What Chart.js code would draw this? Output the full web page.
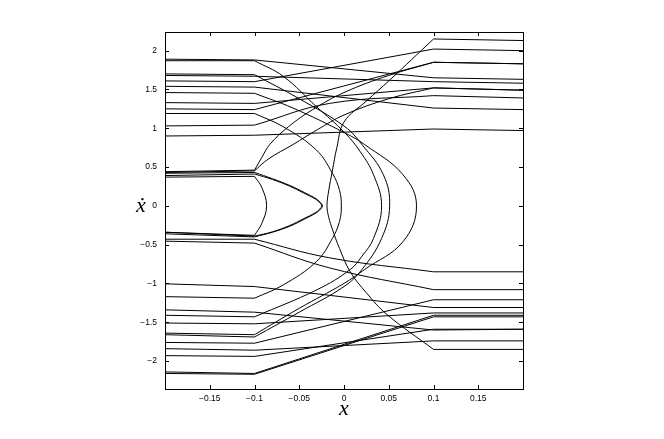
<!DOCTYPE html>
<html><head><meta charset="utf-8">
<script src="https://cdn.jsdelivr.net/npm/chart.js@4/dist/chart.umd.min.js"></script>
<style>html,body{margin:0;padding:0;background:#fff}</style>
</head><body>
<canvas id="c" width="664" height="439"></canvas>
<script>
// ---- axes ----
const xRange = [-0.2, 0.2];
const yRange = [-2.36, 2.24];
const xTicks = [-0.15, -0.1, -0.05, 0, 0.05, 0.1, 0.15];
const xTickLabels = ['\u22120.15', '\u22120.1', '\u22120.05', '0', '0.05', '0.1', '0.15'];
const yTicks = [-2, -1.5, -1, -0.5, 0, 0.5, 1, 1.5, 2];
const yTickLabels = ['\u22122', '\u22121.5', '\u22121', '\u22120.5', '0', '0.5', '1', '1.5', '2'];
const xTitle = 'x';
const yTitle = '\u1E8B';
const edgeX = 0.1; // boundary of the middle (curved) region

// ---- trajectories [x, xdot] ----
const t01 = [[-0.2,1.89],[-0.1,1.88],[0.1,1.65],[0.2,1.63]];
const t02 = [[-0.2,1.68],[-0.1,1.67],[0.1,1.60],[0.2,1.58]];
const t03 = [[-0.2,1.61],[-0.1,1.60],[0.1,2.02],[0.2,2.00]];
const t04 = [[-0.2,1.54],[-0.1,1.53],[0.1,1.26],[0.2,1.24]];
const t05 = [[-0.2,1.33],[-0.1,1.32],[0.1,1.52],[0.2,1.49]];
const t06 = [[-0.2,1.25],[-0.1,1.24],[0.1,1.85],[0.2,1.83]];
const t07 = [[-0.2,1.03],[-0.1,1.04],[-0.016,1.32],[0.1,1.42],[0.2,1.39]];
const t08 = [[-0.2,0.90],[-0.1,0.91],[0.1,0.99],[0.2,0.97]];
const r01 = [[-0.2,0.44],[-0.1,0.46],[-0.092,0.62],[-0.083,0.79],[-0.062,1.02],[-0.035,1.24],[0,1.46],[0.05,1.68],[0.1,1.85],[0.2,1.83]];
const r02 = [[-0.2,0.43],[-0.1,0.45],[-0.085,0.60],[-0.057,0.79],[-0.03,0.98],[0,1.17],[0.05,1.38],[0.1,1.52],[0.2,1.49]];
const arcA = [[-0.2,1.87],[-0.1,1.87],[-0.068,1.67],[-0.031,1.28],[0.001,0.94],[0.018,0.70],[0.033,0.40],[0.042,0],[0.033,-0.42],[0.020,-0.65],[0.007,-0.82],[-0.03,-1.08],[-0.1,-1.43],[-0.2,-1.41]];
const arcB = [[-0.2,1.70],[-0.1,1.69],[-0.05,1.38],[0.001,1.02],[0.020,0.79],[0.044,0.40],[0.051,0],[0.042,-0.42],[0.020,-0.82],[0,-1.04],[-0.05,-1.37],[-0.1,-1.69],[-0.2,-1.66]];
const arcG = [[-0.2,1.46],[-0.1,1.45],[-0.057,1.26],[0.001,0.94],[0.023,0.79],[0.066,0.40],[0.081,0],[0.066,-0.46],[0.023,-0.82],[0,-1.0],[-0.05,-1.32],[-0.1,-1.66],[-0.2,-1.64]];
const arcD = [[-0.2,1.19],[-0.1,1.19],[-0.068,1.02],[-0.031,0.72],[-0.013,0.42],[-0.005,0.2],[-0.003,0],[-0.005,-0.2],[-0.013,-0.42],[-0.031,-0.72],[-0.068,-1.02],[-0.1,-1.19],[-0.2,-1.17]];
const arcC1 = [[-0.2,0.42],[-0.1,0.43],[-0.080,0.35],[-0.060,0.26],[-0.044,0.17],[-0.031,0.09],[-0.026,0.04],[-0.024,0],[-0.026,-0.04],[-0.031,-0.09],[-0.044,-0.17],[-0.060,-0.26],[-0.080,-0.34],[-0.1,-0.40],[-0.2,-0.36]];
const arcC2 = [[-0.2,0.39],[-0.1,0.41],[-0.080,0.34],[-0.061,0.255],[-0.045,0.165],[-0.032,0.088],[-0.027,0.04],[-0.025,0],[-0.027,-0.04],[-0.032,-0.088],[-0.045,-0.165],[-0.061,-0.255],[-0.080,-0.335],[-0.1,-0.39],[-0.2,-0.34]];
const arcC3 = [[-0.2,0.37],[-0.1,0.38],[-0.092,0.24],[-0.0865,0],[-0.092,-0.23],[-0.1,-0.38],[-0.2,-0.34]];
const arcF = [[0.2,-1.85],[0.1,-1.85],[0.048,-1.40],[0.025,-1.12],[0.007,-0.85],[-0.005,-0.55],[-0.013,-0.30],[-0.017,-0.15],[-0.019,0],[-0.017,0.2],[-0.013,0.45],[-0.008,0.75],[0.0,1.08],[0.025,1.35],[0.051,1.62],[0.1,2.15],[0.2,2.13]];
const l01 = [[0.2,-0.85],[0.1,-0.85],[-0.016,-0.67],[-0.1,-0.43],[-0.2,-0.43]];
const l02 = [[0.2,-1.08],[0.1,-1.08],[-0.016,-0.80],[-0.1,-0.48],[-0.2,-0.455]];
const l03 = [[0.2,-1.31],[0.1,-1.31],[-0.1,-1.04],[-0.2,-1.005]];
const l04 = [[0.2,-1.59],[0.1,-1.60],[-0.1,-1.37],[-0.2,-1.34]];
const l05 = [[0.2,-1.21],[0.1,-1.21],[-0.1,-1.77],[-0.2,-1.76]];
const l06 = [[0.2,-1.38],[0.1,-1.38],[-0.1,-1.52],[-0.2,-1.51]];
const l07 = [[0.2,-1.43],[0.1,-1.43],[-0.1,-2.17],[-0.2,-2.16]];
const l08 = [[0.2,-1.41],[0.1,-1.41],[-0.1,-2.16],[-0.2,-2.14]];
const l09 = [[0.2,-1.59],[0.1,-1.59],[-0.1,-1.94],[-0.2,-1.93]];
const l10 = [[0.2,-1.74],[0.1,-1.74],[-0.1,-1.86],[-0.2,-1.84]];

const trajectories = [t01,t02,t03,t04,t05,t06,t07,t08,r01,r02,arcA,arcB,arcG,arcD,arcC1,arcC2,arcC3,arcF,l01,l02,l03,l04,l05,l06,l07,l08,l09,l10];

// split each trajectory at the region boundaries: straight outer pieces, smooth middle pieces
function pieces(t) {
  const out = [];
  let cur = [t[0]];
  for (let i = 1; i < t.length; i++) {
    cur.push(t[i]);
    const onEdge = Math.abs(Math.abs(t[i][0]) - edgeX) < 1e-9;
    if (onEdge && i < t.length - 1) { out.push(cur); cur = [t[i]]; }
  }
  if (cur.length > 1) out.push(cur);
  return out;
}
const datasets = [];
trajectories.forEach(t => {
  pieces(t).forEach(p => {
    const inner = p.some(q => Math.abs(q[0]) < edgeX - 1e-9);
    datasets.push({
      data: p.map(q => ({x: q[0], y: q[1]})),
      showLine: true, borderColor: '#000', borderWidth: 1,
      pointRadius: 0, pointHoverRadius: 0,
      tension: inner ? 0.4 : 0, fill: false
    });
  });
});

const frame = {
  id: 'frame',
  afterDatasetsDraw(chart) {
    const {ctx, chartArea: a, scales: {x, y}} = chart;
    ctx.save();
    ctx.strokeStyle = '#000';
    ctx.lineWidth = 1;
    ctx.beginPath();
    const L = 4;
    xTicks.forEach(v => {
      const px = Math.round(x.getPixelForValue(v)) + 0.5;
      ctx.moveTo(px, a.bottom); ctx.lineTo(px, a.bottom - L);
      ctx.moveTo(px, a.top); ctx.lineTo(px, a.top + L);
    });
    yTicks.forEach(v => {
      const py = Math.round(y.getPixelForValue(v)) + 0.5;
      ctx.moveTo(a.left, py); ctx.lineTo(a.left + L, py);
      ctx.moveTo(a.right, py); ctx.lineTo(a.right - L, py);
    });
    ctx.stroke();
    ctx.strokeRect(Math.round(a.left) + 0.5, Math.round(a.top) + 0.5, Math.round(a.right - a.left), Math.round(a.bottom - a.top));
    ctx.fillStyle = '#000';
    ctx.textAlign = 'center';
    ctx.textBaseline = 'middle';
    ctx.font = 'italic 22px "Liberation Serif", "DejaVu Serif", serif';
    ctx.fillText(xTitle, (a.left + a.right) / 2, a.bottom + 20);
    ctx.fillText(yTitle, a.left - 24, y.getPixelForValue(0));
    ctx.restore();
  }
};

new Chart(document.getElementById('c'), {
  type: 'scatter',
  data: {datasets},
  options: {
    responsive: false,
    animation: false,
    devicePixelRatio: 1,
    events: [],
    layout: {padding: {left: 0, right: 141, top: 32, bottom: 0}},
    plugins: {legend: {display: false}, tooltip: {enabled: false}},
    scales: {
      x: {
        type: 'linear', min: xRange[0], max: xRange[1],
        grid: {display: false, drawTicks: false},
        border: {display: false},
        afterBuildTicks: s => { s.ticks = xTicks.map(v => ({value: v})); },
        afterFit: s => { s.height = 50; },
        ticks: {
          padding: 5, maxRotation: 0, autoSkip: false, color: '#000',
          font: {family: '"Liberation Sans", Arial, sans-serif', size: 8.5},
          callback: (v) => xTickLabels[xTicks.indexOf(v)]
        }
      },
      y: {
        type: 'linear', min: yRange[0], max: yRange[1],
        grid: {display: false, drawTicks: false},
        border: {display: false},
        afterBuildTicks: s => { s.ticks = yTicks.map(v => ({value: v})); },
        afterFit: s => { s.width = 165; },
        ticks: {
          padding: 8, autoSkip: false, color: '#000',
          font: {family: '"Liberation Sans", Arial, sans-serif', size: 8.5},
          callback: (v) => yTickLabels[yTicks.indexOf(v)]
        }
      }
    }
  },
  plugins: [frame]
});
</script>
</body></html>
